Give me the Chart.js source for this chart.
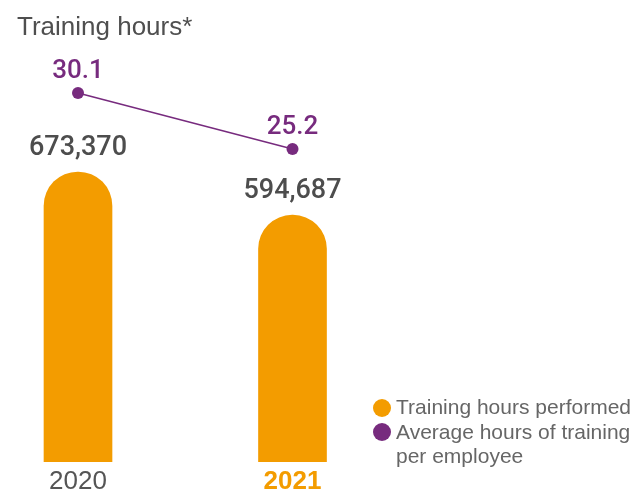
<!DOCTYPE html>
<html>
<head>
<meta charset="utf-8">
<script src="https://cdn.jsdelivr.net/npm/chart.js@4"></script>
<style>
  body { margin: 0; overflow: hidden; background: #fff; }
  #wrap { position: relative; width: 632px; height: 494px; }
  #title {
    position: absolute; left: 17px; top: 13px;
    font: 26px/26px "Liberation Sans", Arial, sans-serif; color: #4f4f4f;
  }
  #legend {
    position: absolute; left: 373px; top: 395px; width: 262px;
    font: 21px/24.5px "Liberation Sans", Arial, sans-serif; color: #666;
  }
  .item { position: relative; padding-left: 23px; }
  .dot {
    position: absolute; left: 0; top: 3.5px;
    width: 18px; height: 18px; border-radius: 50%;
  }
</style>
</head>
<body>
<div id="wrap">
  <canvas id="chart"></canvas>
  <div id="title">Training hours*</div>
  <div id="legend"></div>
</div>
<script>
var years = ['2020', '2021'];
var trainingHours = [673370, 594687];
var avgHoursPerEmployee = [30.1, 25.2];
var seriesNames = ['Training hours performed', 'Average hours of training per employee'];

var orange = '#F39C00';
var purple = '#772B7E';
var grey = '#4d4d4d';

// numbers above bars and points
var valueLabels = {
    id: 'valueLabels',
    afterDatasetsDraw: function(chart) {
        var ctx = chart.ctx;
        ctx.save();
        ctx.textAlign = 'center';
        ctx.textBaseline = 'alphabetic';
        chart.data.datasets.forEach(function(ds, i) {
            var meta = chart.getDatasetMeta(i);
            meta.data.forEach(function(el, j) {
                var v = ds.data[j];
                if (ds.type === 'line') {
                    ctx.font = '500 26px Roboto';
                    ctx.fillStyle = purple;
                    ctx.fillText(v.toFixed(1), el.x, el.y - 15);
                } else {
                    ctx.font = '500 27px Roboto';
                    ctx.fillStyle = grey;
                    ctx.fillText(v.toLocaleString('en-US'), el.x, el.y - 17);
                }
            });
        });
        ctx.restore();
    }
};

var chart = new Chart(document.getElementById('chart').getContext('2d'), {
    type: 'bar',
    data: {
        labels: years,
        datasets: [{
            type: 'line',
            label: seriesNames[1],
            data: avgHoursPerEmployee,
            yAxisID: 'yAvg',
            borderColor: purple,
            borderWidth: 1.5,
            pointRadius: 6,
            pointBackgroundColor: purple,
            pointBorderWidth: 0,
            tension: 0,
            clip: false,
            order: 0
        }, {
            label: seriesNames[0],
            data: trainingHours,
            yAxisID: 'y',
            backgroundColor: orange,
            barThickness: 68,
            borderRadius: 34,
            borderSkipped: 'bottom',
            // bars sit on the bottom of the plot area, may spill sideways
            clip: { left: 40, right: 40, top: 0, bottom: 0 },
            order: 1
        }]
    },
    options: {
        responsive: true,
        maintainAspectRatio: false,
        animation: false,
        layout: {
            autoPadding: false,
            padding: { left: 78, right: 339.5, top: 0, bottom: 0 }
        },
        scales: {
            x: {
                offset: false,
                grid: { display: false, drawTicks: false },
                border: { display: false },
                afterFit: function(scale) { scale.height = 32; },
                ticks: {
                    padding: 4,
                    font: function(c) {
                        return { family: 'Liberation Sans', size: 26, weight: c.index === years.length - 1 ? 'bold' : 'normal' };
                    },
                    color: function(c) {
                        return c.index === years.length - 1 ? orange : '#555';
                    }
                }
            },
            y: { display: false, min: 145000, max: 986700 },
            yAvg: { display: false, position: 'right', min: -2.18, max: 38.24 }
        },
        plugins: {
            legend: { display: false },
            tooltip: { enabled: false }
        }
    },
    plugins: [valueLabels]
});

// legend, bars first
var legend = document.getElementById('legend');
[1, 0].forEach(function(i) {
    var ds = chart.data.datasets[i];
    var row = document.createElement('div');
    row.className = 'item';
    var dot = document.createElement('span');
    dot.className = 'dot';
    dot.style.background = ds.type === 'line' ? ds.borderColor : ds.backgroundColor;
    row.appendChild(dot);
    row.appendChild(document.createTextNode(ds.label));
    legend.appendChild(row);
});
</script>
</body>
</html>
